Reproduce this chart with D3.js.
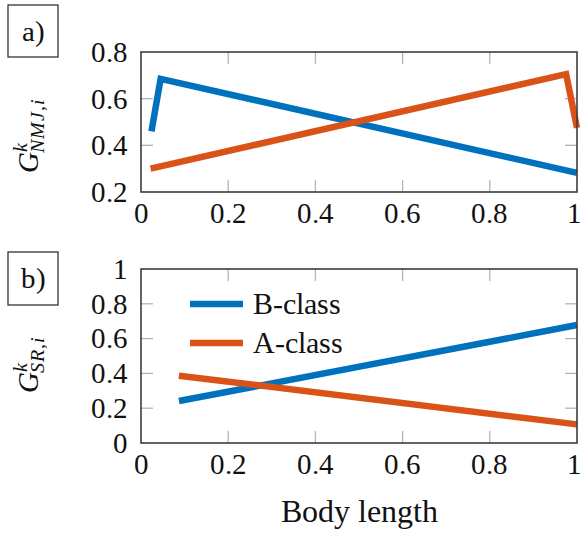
<!DOCTYPE html>
<html><head><meta charset="utf-8"><script src="https://cdn.jsdelivr.net/npm/d3@7"></script>
<style>
  @font-face { font-family: "TexSerif"; src: local("Liberation Serif"), local("LiberationSerif"); font-style: normal; }
  @font-face { font-family: "TexSerif"; src: local("Liberation Serif Italic"), local("LiberationSerif-Italic"); font-style: italic; }
  #svg text { font-family: "TexSerif", "Liberation Serif", "Times New Roman", serif !important; }
</style>
</head>
<body style="margin:0">
<svg id="svg" width="582" height="533" font-family="Liberation Serif"></svg>
<script>
// ── Data ──────────────────────────────────────────────────────────────────────

const seriesNames = ['B-class', 'A-class'];
const seriesColors = ['#0072BD', '#D95319'];

const xTicks  = [0, 0.2, 0.4, 0.6, 0.8, 1];
const yTicksA = [0.2, 0.4, 0.6, 0.8];
const yTicksB = [0, 0.2, 0.4, 0.6, 0.8, 1];

// panel a) G^k_NMJ,i
const nmjBodyB = [0.024, 0.045, 1.0];
const nmjB     = [0.46, 0.685, 0.282];
const nmjBodyA = [0.022, 0.975, 1.0];
const nmjA     = [0.30, 0.705, 0.475];

// panel b) G^k_SR,i
const srBody = [0.087, 1.0];
const srB    = [0.241, 0.678];
const srA    = [0.387, 0.107];

// ── Layout ────────────────────────────────────────────────────────────────────

const svg = d3.select('#svg');
const W = 582;
const left = 141, right = 577;
const FS = 29;
const G_W = 21;   // width of the italic G at FS

const x = d3.scaleLinear().domain([0, 1]).range([left, right]);

function txt(sel) {
  return sel.append('text')
    .attr('font-family', 'Liberation Serif')
    .attr('fill', '#111');
}

function panel(opts) {
  const { top, bottom, yDomain, yTicks, series, tag, tagBox, sub, labelY } = opts;
  const y = d3.scaleLinear().domain(yDomain).range([bottom, top]);
  const g = svg.append('g');

  // inner ticks (grey), all four sides
  const tickLen = 12;
  const innerX = xTicks.filter(t => t > 0 && t < 1);
  const innerY = yTicks.filter(t => t > yDomain[0] && t < yDomain[1]);
  const tk = g.append('g').attr('stroke', '#b4b4b4').attr('stroke-width', 1.3);
  innerX.forEach(t => {
    tk.append('line').attr('x1', x(t)).attr('x2', x(t)).attr('y1', bottom).attr('y2', bottom - tickLen);
    tk.append('line').attr('x1', x(t)).attr('x2', x(t)).attr('y1', top).attr('y2', top + tickLen);
  });
  innerY.forEach(t => {
    tk.append('line').attr('y1', y(t)).attr('y2', y(t)).attr('x1', left).attr('x2', left + tickLen);
    tk.append('line').attr('y1', y(t)).attr('y2', y(t)).attr('x1', right).attr('x2', right - tickLen);
  });

  // series
  const line = d3.line().x(d => x(d[0])).y(d => y(d[1]));
  series.forEach((s, i) => {
    g.append('path')
      .datum(d3.zip(s.xs, s.ys))
      .attr('d', line)
      .attr('fill', 'none')
      .attr('stroke', seriesColors[i])
      .attr('stroke-width', 6.5)
      .attr('stroke-linejoin', 'miter')
      .attr('stroke-linecap', 'butt');
  });

  // frame
  g.append('rect')
    .attr('x', left).attr('y', top)
    .attr('width', right - left).attr('height', bottom - top)
    .attr('fill', 'none').attr('stroke', '#3c3c3c').attr('stroke-width', 1.6);

  // tick labels
  yTicks.forEach(d => {
    txt(g).attr('x', 128).attr('y', y(d)).attr('dy', '0.34em')
      .attr('text-anchor', 'end').attr('font-size', FS)
      .text(d3.format('~g')(d));
  });
  xTicks.forEach(d => {
    // keep the last label inside the page
    txt(g).attr('x', Math.min(x(d), W - 8)).attr('y', bottom + 31)
      .attr('text-anchor', 'middle').attr('font-size', FS)
      .text(d3.format('~g')(d));
  });

  // panel tag a) / b)
  g.append('rect')
    .attr('x', tagBox[0]).attr('y', tagBox[1]).attr('width', tagBox[2]).attr('height', tagBox[3])
    .attr('fill', 'none').attr('stroke', '#333').attr('stroke-width', 1.3);
  txt(g)
    .attr('x', tagBox[0] + tagBox[2] / 2).attr('y', tagBox[1] + tagBox[3] / 2).attr('dy', '0.34em')
    .attr('text-anchor', 'middle').attr('font-size', FS)
    .text(tag);

  // y label: G^k_{sub}, rotated
  const lab = g.append('g').attr('transform', `translate(38,${labelY}) rotate(-90)`);
  txt(lab).attr('font-size', FS).attr('font-style', 'italic').text('G');
  txt(lab).attr('x', G_W + 0.5).attr('y', -11)
    .attr('font-size', 20).attr('font-style', 'italic').text('k');
  txt(lab).attr('x', G_W - 1).attr('y', 6)
    .attr('font-size', 20).attr('font-style', 'italic').attr('letter-spacing', 1).text(sub);

  return { g, y };
}

panel({
  top: 52, bottom: 192, yDomain: [0.2, 0.8], yTicks: yTicksA,
  series: [{ xs: nmjBodyB, ys: nmjB }, { xs: nmjBodyA, ys: nmjA }],
  tag: 'a)', tagBox: [8, 5, 50, 52], sub: 'NMJ,i', labelY: 173
});

panel({
  top: 269, bottom: 443, yDomain: [0, 1], yTicks: yTicksB,
  series: [{ xs: srBody, ys: srB }, { xs: srBody, ys: srA }],
  tag: 'b)', tagBox: [8, 252, 50, 53], sub: 'SR,i', labelY: 393
});

// legend
const legendY = [304, 343];
const leg = svg.append('g');
seriesNames.forEach((name, i) => {
  leg.append('line')
    .attr('x1', 190).attr('x2', 243).attr('y1', legendY[i]).attr('y2', legendY[i])
    .attr('stroke', seriesColors[i]).attr('stroke-width', 6.5);
  txt(leg)
    .attr('x', 253).attr('y', legendY[i]).attr('dy', '0.33em')
    .attr('font-size', FS + 1)
    .text(name);
});

// x axis title
txt(svg)
  .attr('x', (left + right) / 2).attr('y', 522)
  .attr('text-anchor', 'middle').attr('font-size', FS + 3)
  .text('Body length');
</script>
</body>
</html>
